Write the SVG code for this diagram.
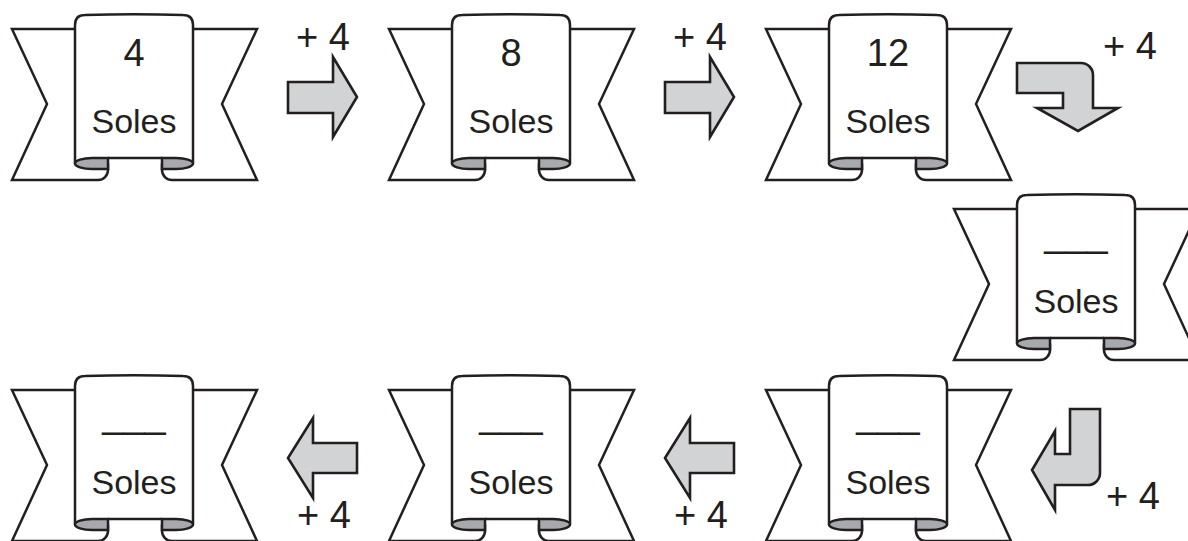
<svg xmlns="http://www.w3.org/2000/svg" width="1188" height="541" viewBox="0 0 1188 541">
<style>
.ln{fill:none;stroke:#231f20;stroke-width:2.5}
.face{fill:#fff;stroke:#231f20;stroke-width:2.5}
.curl{fill:#a7a9ac;stroke:#231f20;stroke-width:2.5}
.arr{fill:#d1d3d4;stroke:#231f20;stroke-width:2.6;stroke-linejoin:miter}
.num{font-family:"Liberation Sans",Arial,Helvetica,sans-serif;font-size:38px;fill:#231f20;text-anchor:middle}
.lab{font-family:"Liberation Sans",Arial,Helvetica,sans-serif;font-size:34px;fill:#231f20;text-anchor:middle}
</style>
<defs>
<g id="banner">
<path class="ln" d="M75,29 L12,29 L47,104 L12,180 L98,180 A10,10 0 0 0 108,170 L108,158"/>
<path class="ln" d="M193,29 L257,29 L222,104 L257,180 L172,180 A10,10 0 0 1 162,170 L162,158"/>
<path class="face" d="M75,163.5 L75,25 Q75,15 85,15 Q134,13.5 183,15 Q193,15 193,25 L193,163.5"/>
<path class="ln" d="M108,158 L162,158"/>
<path class="curl" d="M108,158 L92,158 A17,5.5 0 0 0 92,169 L108,169 Z"/>
<path class="curl" d="M162,158 L176,158 A17,5.5 0 0 1 176,169 L162,169 Z"/>
</g>
</defs>
<g id="n1"><use href="#banner"/><text class="num" x="134" y="66">4</text><text class="lab" x="134" y="133">Soles</text></g>
<g id="n2" transform="translate(377,0)"><use href="#banner"/><text class="num" x="134" y="66">8</text><text class="lab" x="134" y="133">Soles</text></g>
<g id="n3" transform="translate(754,0)"><use href="#banner"/><text class="num" x="134" y="66">12</text><text class="lab" x="134" y="133">Soles</text></g>
<g id="n4" transform="translate(942,180)"><use href="#banner"/><text class="num" x="134" y="66">___</text><text class="lab" x="134" y="133">Soles</text></g>
<g id="n5" transform="translate(754,361)"><use href="#banner"/><text class="num" x="134" y="66">___</text><text class="lab" x="134" y="133">Soles</text></g>
<g id="n6" transform="translate(377,361)"><use href="#banner"/><text class="num" x="134" y="66">___</text><text class="lab" x="134" y="133">Soles</text></g>
<g id="n7" transform="translate(0,361)"><use href="#banner"/><text class="num" x="134" y="66">___</text><text class="lab" x="134" y="133">Soles</text></g>
<g id="connectors">
<path class="arr" d="M288,82 L333,82 L333,57 L357,97 L333,137 L333,113 L288,113 Z"/>
<path class="arr" transform="translate(377,0)" d="M288,82 L333,82 L333,57 L357,97 L333,137 L333,113 L288,113 Z"/>
<path class="arr" d="M1017,63 L1081,63 A12,12 0 0 1 1093,75 L1093,108 L1118,108 L1078,131 L1037,108 L1063,108 L1063,93 L1017,93 Z"/>
<path class="arr" d="M1070,409 L1100,409 L1100,473 A12,12 0 0 1 1088,485 L1055,485 L1055,510 L1032,470 L1055,431 L1055,454 L1070,454 Z"/>
<path class="arr" d="M357,443 L313,443 L313,418 L288,458 L313,498 L313,473 L357,473 Z"/>
<path class="arr" transform="translate(377,0)" d="M357,443 L313,443 L313,418 L288,458 L313,498 L313,473 L357,473 Z"/>
<text class="num" x="323" y="50">+ 4</text>
<text class="num" x="700" y="50">+ 4</text>
<text class="num" x="1130" y="59">+ 4</text>
<text class="num" x="1133" y="509">+ 4</text>
<text class="num" x="324" y="528">+ 4</text>
<text class="num" x="701" y="528">+ 4</text>
</g>
</svg>
